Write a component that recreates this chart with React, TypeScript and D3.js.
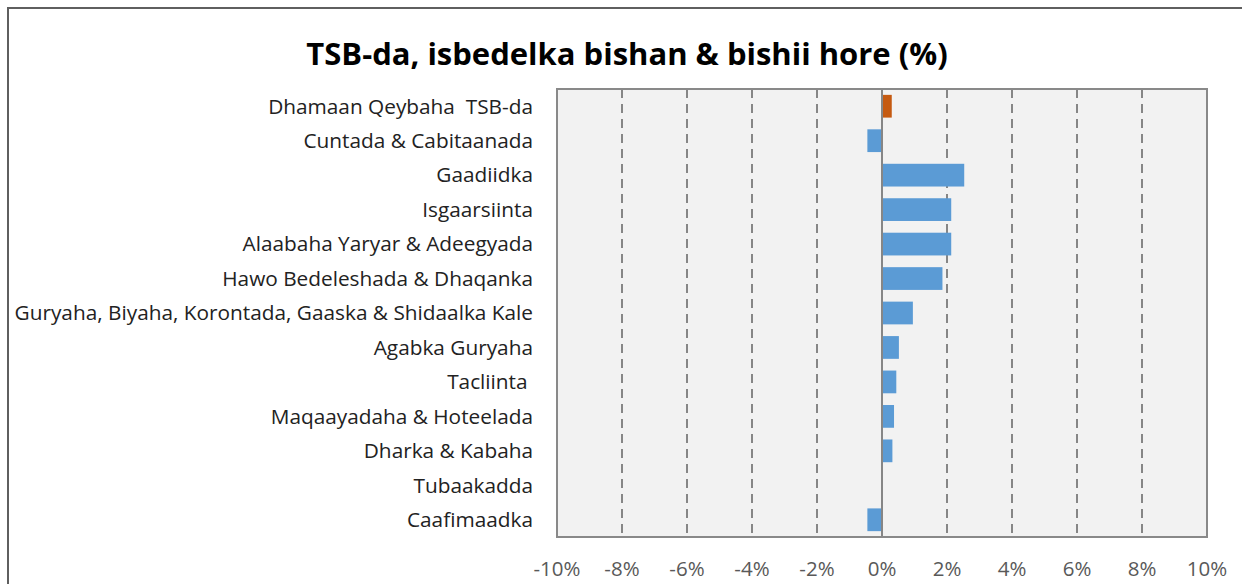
import React from 'react';
import * as d3 from 'd3';

const categories = [
  'Dhamaan Qeybaha  TSB-da',
  'Cuntada & Cabitaanada',
  'Gaadiidka',
  'Isgaarsiinta',
  'Alaabaha Yaryar & Adeegyada',
  'Hawo Bedeleshada & Dhaqanka',
  'Guryaha, Biyaha, Korontada, Gaaska & Shidaalka Kale',
  'Agabka Guryaha',
  'Tacliinta ',
  'Maqaayadaha & Hoteelada',
  'Dharka & Kabaha',
  'Tubaakadda',
  'Caafimaadka',
];

// percent change
const values = [0.3, -0.45, 2.53, 2.13, 2.13, 1.86, 0.95, 0.52, 0.44, 0.37, 0.32, 0, -0.45];

const ticks = [-10, -8, -6, -4, -2, 0, 2, 4, 6, 8, 10];

const title = 'TSB-da, isbedelka bishan & bishii hore (%)';

const font = '"Open Sans", "Noto Sans", sans-serif';

export default function App() {
  const plot = { left: 557, right: 1207, top: 89, bottom: 537 };

  const x = d3.scaleLinear().domain([-10, 10]).range([plot.left, plot.right]);
  const y = d3
    .scaleBand()
    .domain(categories)
    .range([plot.top, plot.bottom])
    .paddingInner(0.34)
    .paddingOuter(0.17);

  return (
    <svg
      width={1242}
      height={584}
      style={{ position: 'absolute', left: 0, top: 0, background: '#fff' }}
      fontFamily={font}
    >
      {/* chart frame */}
      <rect x={8} y={8} width={1250} height={600} fill="#fff" stroke="#5f5f5f" strokeWidth={2} />

      <text x={627} y={65} textAnchor="middle" fontSize={31} fontWeight="bold" fill="#000">
        {title}
      </text>

      {/* plot area */}
      <rect
        x={plot.left}
        y={plot.top}
        width={plot.right - plot.left}
        height={plot.bottom - plot.top}
        fill="#f2f2f2"
      />

      {/* gridlines */}
      {ticks
        .filter(t => t !== 0 && Math.abs(t) !== 10)
        .map(t => (
          <line
            key={t}
            x1={x(t)}
            x2={x(t)}
            y1={plot.top}
            y2={plot.bottom}
            stroke="#868686"
            strokeWidth={2}
            strokeDasharray="9 6"
          />
        ))}

      {/* bars */}
      {categories.map((c, i) => {
        const v = values[i];
        if (v === 0) return null;
        return (
          <rect
            key={c}
            x={x(Math.min(0, v))}
            y={y(c)}
            width={Math.abs(x(v) - x(0))}
            height={y.bandwidth()}
            fill={i === 0 ? '#c55a11' : '#5b9bd5'}
          />
        );
      })}

      {/* zero axis */}
      <line x1={x(0)} x2={x(0)} y1={plot.top} y2={plot.bottom} stroke="#868686" strokeWidth={2} />

      {/* plot border */}
      <rect
        x={plot.left}
        y={plot.top}
        width={plot.right - plot.left}
        height={plot.bottom - plot.top}
        fill="none"
        stroke="#898989"
        strokeWidth={2}
      />

      {/* category labels */}
      {categories.map(c => (
        <text
          key={c}
          x={533}
          y={(y(c) ?? 0) + y.bandwidth() / 2}
          dy="0.35em"
          textAnchor="end"
          fontSize={20.8}
          fill="#222"
          style={{ whiteSpace: 'pre' }}
        >
          {c}
        </text>
      ))}

      {/* x tick labels */}
      {ticks.map(t => (
        <text key={t} x={x(t)} y={576} textAnchor="middle" fontSize={20.5} fill="#595959">
          {String(t) + '%'}
        </text>
      ))}
    </svg>
  );
}
